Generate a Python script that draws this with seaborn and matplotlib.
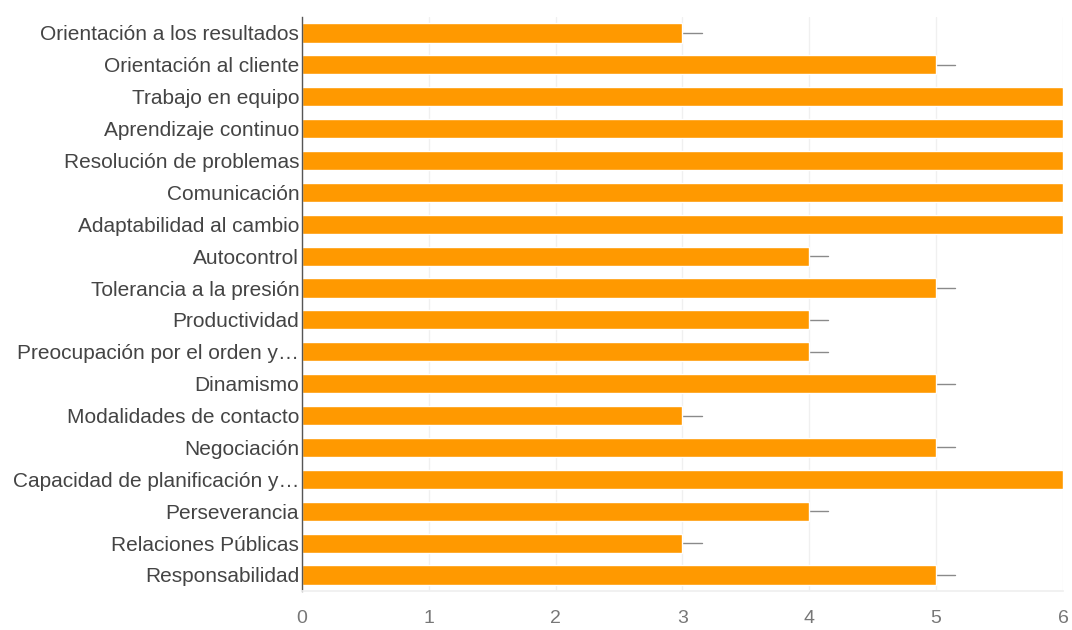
import matplotlib
matplotlib.use("Agg")
import matplotlib.pyplot as plt
import seaborn as sns
import pandas as pd

categories = [
    "Orientación a los resultados",
    "Orientación al cliente",
    "Trabajo en equipo",
    "Aprendizaje continuo",
    "Resolución de problemas",
    "Comunicación",
    "Adaptabilidad al cambio",
    "Autocontrol",
    "Tolerancia a la presión",
    "Productividad",
    "Preocupación por el orden y…",
    "Dinamismo",
    "Modalidades de contacto",
    "Negociación",
    "Capacidad de planificación y…",
    "Perseverancia",
    "Relaciones Públicas",
    "Responsabilidad",
]
counts = [3, 5, 6, 6, 6, 6, 6, 4, 5, 4, 4, 5, 3, 5, 6, 4, 3, 5]
x_ticks = [0, 1, 2, 3, 4, 5, 6]

df = pd.DataFrame({"competencia": categories, "respuestas": counts})

sns.set_theme(style="white")
plt.rcParams["font.family"] = ["Liberation Sans", "DejaVu Sans"]

fig = plt.figure(figsize=(10.72, 6.3), dpi=100)
ax = fig.add_axes([0.2817, 0.062, 0.7099, 0.911])

sns.barplot(data=df, y="competencia", x="respuestas", orient="h",
            color="#ff9900", saturation=1, width=0.6, ax=ax, zorder=2)

# short grey tick after each bar end
for i, v in enumerate(counts):
    ax.plot([v, v + 0.15], [i, i], color="#8a8a8a", lw=1.0, zorder=1,
            clip_on=True)

ax.set_xlim(0, 6)
ax.set_ylim(len(categories) - 0.5, -0.5)
ax.set_xticks(x_ticks)
ax.set_xticklabels([str(t) for t in x_ticks])
ax.xaxis.grid(True, color="#f0f0f0", lw=1, zorder=0)
ax.set_axisbelow(True)
ax.set_xlabel("")
ax.set_ylabel("")

for side in ["top", "right"]:
    ax.spines[side].set_visible(False)
ax.spines["bottom"].set_color("#f0f0f0")
ax.spines["left"].set_color("#555555")
ax.spines["left"].set_linewidth(1.0)

ax.tick_params(axis="y", length=0, pad=2, labelsize=15, labelcolor="#444444")
ax.tick_params(axis="x", length=0, pad=14, labelsize=14, labelcolor="#777777")

fig.savefig("out.png", dpi=100, facecolor="white")
